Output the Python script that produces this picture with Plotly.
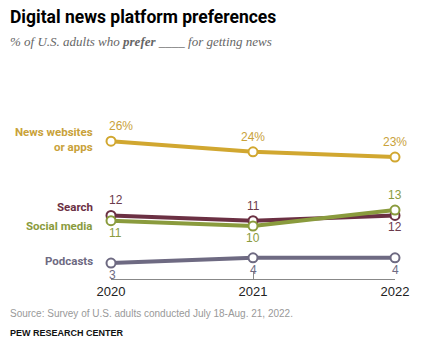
import plotly.graph_objects as go

years = [2020, 2021, 2022]
year_labels = ["2020", "2021", "2022"]
news_sites = [26, 24, 23]
search = [12, 11, 12]
social = [11, 10, 13]
podcasts = [3, 4, 4]

series = [
    ("News websites<br>or apps", news_sites, "#D1A730", "#C9A23A", ["26%", "24%", "23%"], [1, 1, 1]),
    ("Search", search, "#6B3043", "#6B3A4C", ["12", "11", "12"], [1, 1, -1]),
    ("Social media", social, "#8A9B3D", "#8A9B3D", ["11", "10", "13"], [-1, -1, 1]),
    ("Podcasts", podcasts, "#6E6A82", "#6E6A82", ["3", "4", "4"], [-1, -1, -1]),
]

fig = go.Figure()
for name, vals, col, tcol, labels, pos in series:
    fig.add_trace(go.Scatter(
        x=years, y=vals, mode="lines+markers",
        line=dict(color=col, width=4),
        marker=dict(size=9, color="white", line=dict(color=col, width=2)),
        cliponaxis=False, showlegend=False, hoverinfo="skip",
    ))
    for i, (xv, yv, lab, p) in enumerate(zip(years, vals, labels, pos)):
        fig.add_annotation(
            x=xv, y=yv, text=lab, showarrow=False,
            xanchor="left" if i == 0 else "center",
            xshift=-4 if i == 0 else 0,
            yshift=15 * p if p > 0 else -12,
            yanchor="middle",
            font=dict(family="Liberation Sans, Arial, sans-serif", size=12, color=tcol),
        )

# Left labels
left_labels = [
    ("News websites<br>or apps", 26, "#C9A23A", -4),
    ("Search", 12, "#6B3043", 8),
    ("Social media", 11, "#8A9B3D", -5),
    ("Podcasts", 3, "#6E6A82", 2),
]
for txt, yv, col, ys in left_labels:
    fig.add_annotation(
        x=0, xref="paper", y=yv, yref="y", text="<b>" + txt + "</b>",
        showarrow=False, xanchor="right", align="right", xshift=-16, yshift=ys + (6 if "<br>" in txt else 0),
        font=dict(family="Roboto, Liberation Sans, sans-serif", size=11.5, color=col),
    )

fig.update_layout(
    width=429, height=345,
    margin=dict(l=111, r=34, t=120, b=66),
    plot_bgcolor="white", paper_bgcolor="white",
    xaxis=dict(
        range=[2020, 2022], tickvals=years, ticktext=year_labels,
        showgrid=False, zeroline=False, showline=True, linecolor="#888888", linewidth=1,
        ticks="inside", ticklen=7, tickcolor="#888888",
        tickfont=dict(family="Liberation Sans, Arial, sans-serif", size=13, color="#222222"),
    ),
    yaxis=dict(range=[0, 30], visible=False, showgrid=False, zeroline=False),
)

def px_to_paper_y(py):
    top, bottom = 120, 345 - 66
    return (bottom - py) / (bottom - top)

def px_to_paper_x(px):
    left, right = 111, 429 - 34
    return (px - left) / (right - left)

title_font = dict(family="Roboto, Liberation Sans, sans-serif", size=17.5, color="#000000")
fig.add_annotation(
    x=px_to_paper_x(8), y=px_to_paper_y(17), xref="paper", yref="paper",
    text="<b>Digital news platform preferences</b>",
    showarrow=False, xanchor="left", yanchor="middle", font=title_font,
)
fig.add_annotation(
    x=px_to_paper_x(8), y=px_to_paper_y(41), xref="paper", yref="paper",
    text="<i>% of U.S. adults who <b>prefer</b> ____ for getting news</i>",
    showarrow=False, xanchor="left", yanchor="middle",
    font=dict(family="Liberation Serif, serif", size=13, color="#666666"),
)
fig.add_annotation(
    x=px_to_paper_x(8), y=px_to_paper_y(313), xref="paper", yref="paper",
    text="Source: Survey of U.S. adults conducted July 18-Aug. 21, 2022.",
    showarrow=False, xanchor="left", yanchor="middle",
    font=dict(family="Liberation Sans, Arial, sans-serif", size=10, color="#999999"),
)
fig.add_annotation(
    x=px_to_paper_x(8), y=px_to_paper_y(333), xref="paper", yref="paper",
    text="<b>PEW RESEARCH CENTER</b>",
    showarrow=False, xanchor="left", yanchor="middle",
    font=dict(family="Liberation Sans, Arial, sans-serif", size=9, color="#111111"),
)

fig.write_html("out.html")
